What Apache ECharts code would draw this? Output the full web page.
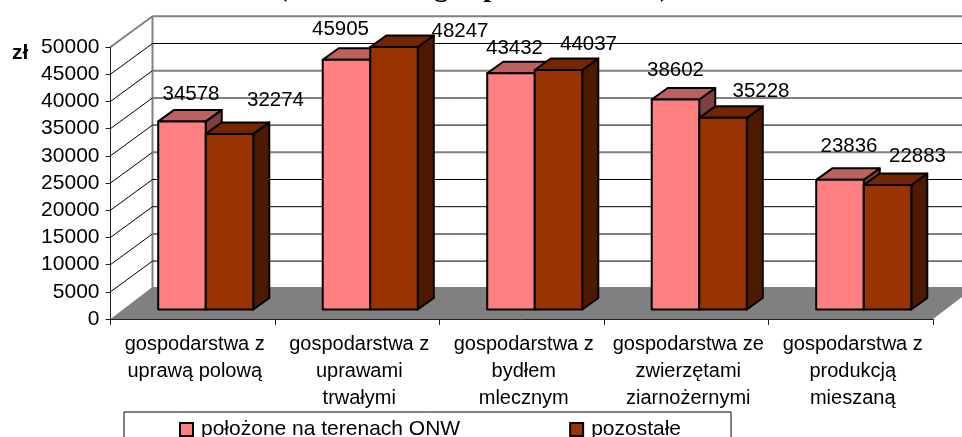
<!DOCTYPE html>
<html>
<head>
<meta charset="utf-8">
<script src="https://cdn.jsdelivr.net/npm/echarts@6/dist/echarts.min.js"></script>
<style>
    html, body { margin: 0; padding: 0; background: #fff; overflow: hidden; }
    #chart { width: 962px; height: 437px; }
</style>
</head>
<body>
<div id="chart"></div>
<script>
const categories = [
    'gospodarstwa z\nuprawą polową',
    'gospodarstwa z\nuprawami\ntrwałymi',
    'gospodarstwa z\nbydłem\nmlecznym',
    'gospodarstwa ze\nzwierzętami\nziarnożernymi',
    'gospodarstwa z\nprodukcją\nmieszaną'
]
const onwName = 'położone na terenach ONW'
const otherName = 'pozostałe'
const onwValues = [34578, 45905, 43432, 38602, 23836]
const otherValues = [32274, 48247, 44037, 35228, 22883]
const yTicks = [0, 5000, 10000, 15000, 20000, 25000, 30000, 35000, 40000, 45000, 50000]

// only the bottom edge of the title is inside the picture
const titleText = '(' + ' '.repeat(21) + 'g' + ' '.repeat(5) + 'p' + ' '.repeat(23) + ')'

// fake 3d: how far the back wall and the bars sit behind the front axis plane
const wall = { x: 42, y: -32 }
const wallLineY = -30.7
const barShift = { x: 13, y: -9.5 }
const barDepth = { x: 16, y: -11.5 }
const barRatio = 0.289

// these wall lines came out gray and thick in the scan, the others thin and black
const grayWallTicks = [10000, 25000, 35000, 40000, 50000]

const font = 'Liberation Sans'

// label nudges from the bar's front top centre, the source placed them by hand
const onwLabelShift = [[9, -27], [-6, -30], [3.5, -25], [0, -29], [9, -33]]
const otherLabelShift = [[46, -34], [66, -16], [30, -26], [38, -27], [30, -29]]

const onwColors = { front: '#FF8080', top: '#BF6060', side: '#804040' }
const otherColors = { front: '#993300', top: '#732600', side: '#4D1A00' }

function renderFrame(params, api) {
    const tick = api.value(1)
    const grid = params.coordSys
    const left = grid.x
    const right = grid.x + grid.width
    const y = api.coord([0, tick])[1]
    const gray = { stroke: '#808080', lineWidth: 2, fill: null }
    const thin = { stroke: '#000', lineWidth: 1, fill: null }
    const children = []
    if (tick === 0) {
        children.push({
            type: 'polygon',
            shape: { points: [[left, y], [left + wall.x, y + wall.y], [right + wall.x, y + wall.y], [right, y]] },
            style: { fill: '#808080' }
        })
        const topY = api.coord([0, 50000])[1] + wallLineY
        children.push({
            type: 'line',
            shape: { x1: left + wall.x, y1: y + wall.y, x2: left + wall.x, y2: topY },
            style: gray
        })
    } else {
        const isGray = grayWallTicks.indexOf(tick) >= 0
        children.push({
            type: 'line',
            shape: { x1: left, y1: y, x2: left + wall.x, y2: y + wallLineY },
            style: tick === 50000 ? gray : thin
        })
        children.push({
            type: 'line',
            shape: { x1: left + wall.x, y1: y + wallLineY, x2: right + wall.x, y2: y + wallLineY },
            style: isGray ? gray : thin
        })
    }
    return { type: 'group', children: children }
}

function barRenderer(colors, side, labelShift) {
    return function (params, api) {
        const i = api.value(0)
        const value = api.value(1)
        const top = api.coord([i, value])
        const base = api.coord([i, 0])
        const w = api.size([1, 0])[0] * barRatio
        const x1 = top[0] + barShift.x + (side === 0 ? -w : 0)
        const x2 = x1 + w
        const y1 = top[1] + barShift.y
        const y2 = base[1] + barShift.y
        const edge = { stroke: '#000', lineWidth: 2, lineJoin: 'round' }
        return {
            type: 'group',
            children: [
                {
                    type: 'polygon',
                    shape: { points: [[x2, y1], [x2 + barDepth.x, y1 + barDepth.y], [x2 + barDepth.x, y2 + barDepth.y], [x2, y2]] },
                    style: Object.assign({ fill: colors.side }, edge)
                },
                {
                    type: 'polygon',
                    shape: { points: [[x1, y1], [x1 + barDepth.x, y1 + barDepth.y], [x2 + barDepth.x, y1 + barDepth.y], [x2, y1]] },
                    style: Object.assign({ fill: colors.top }, edge)
                },
                {
                    type: 'rect',
                    shape: { x: x1, y: y1, width: w, height: y2 - y1 },
                    style: Object.assign({ fill: colors.front }, edge)
                },
                {
                    type: 'text',
                    x: (x1 + x2) / 2 + labelShift[i][0],
                    y: y1 + labelShift[i][1],
                    style: {
                        text: String(value),
                        font: '20.5px "' + font + '"',
                        fill: '#000',
                        textAlign: 'center',
                        textVerticalAlign: 'middle'
                    }
                }
            ]
        }
    }
}

const myChart = echarts.init(document.getElementById('chart'), null, { renderer: 'canvas' })

myChart.setOption({
    animation: false,
    backgroundColor: '#fff',
    title: {
        text: titleText,
        left: 278,
        top: -25,
        padding: 0,
        textStyle: { fontFamily: 'Liberation Serif', fontSize: 28, fontWeight: 'bold', color: '#000' }
    },
    grid: { left: 110.5, right: 29, top: 47, bottom: 118 },
    legend: {
        left: 124,
        top: 412,
        orient: 'horizontal',
        padding: [7, 50, 40, 55],
        itemGap: 109,
        itemWidth: 13,
        itemHeight: 13,
        icon: 'rect',
        backgroundColor: '#fff',
        borderColor: '#000',
        borderWidth: 1,
        borderRadius: 0,
        selectedMode: false,
        textStyle: { fontFamily: font, fontSize: 21, color: '#000', padding: [0, 0, 0, 3] },
        data: [
            { name: onwName, itemStyle: { color: onwColors.front, borderColor: '#000', borderWidth: 2 } },
            { name: otherName, itemStyle: { color: otherColors.front, borderColor: '#000', borderWidth: 2 } }
        ]
    },
    xAxis: {
        type: 'category',
        data: categories,
        z: 2,
        axisLine: { lineStyle: { color: '#222', width: 1 } },
        axisTick: { show: true, alignWithLabel: false, length: 6, lineStyle: { color: '#222' } },
        axisLabel: {
            interval: 0,
            margin: 12,
            padding: [0, 0, 0, 4],
            fontFamily: font,
            fontSize: 20,
            lineHeight: 27,
            color: '#000'
        },
        splitLine: { show: false }
    },
    yAxis: {
        type: 'value',
        min: 0,
        max: 50000,
        interval: 5000,
        z: 2,
        axisLine: { show: true, lineStyle: { color: '#222', width: 1 } },
        axisTick: { show: true, length: 5, lineStyle: { color: '#222' } },
        axisLabel: { margin: 11, fontFamily: font, fontSize: 21, color: '#000', formatter: (v) => String(v) },
        splitLine: { show: false }
    },
    graphic: [{
        type: 'text',
        left: 12,
        top: 43,
        style: { text: 'zł', font: 'bold 21px "' + font + '"', fill: '#000' }
    }],
    series: [
        {
            type: 'custom',
            z: 1,
            silent: true,
            renderItem: renderFrame,
            data: yTicks.map((t) => [0, t])
        },
        {
            type: 'custom',
            name: onwName,
            z: 3,
            itemStyle: { color: onwColors.front },
            renderItem: barRenderer(onwColors, 0, onwLabelShift),
            encode: { x: 0, y: 1 },
            data: onwValues.map((v, i) => [i, v])
        },
        {
            type: 'custom',
            name: otherName,
            z: 4,
            itemStyle: { color: otherColors.front },
            renderItem: barRenderer(otherColors, 1, otherLabelShift),
            encode: { x: 0, y: 1 },
            data: otherValues.map((v, i) => [i, v])
        }
    ]
})
</script>
</body>
</html>
